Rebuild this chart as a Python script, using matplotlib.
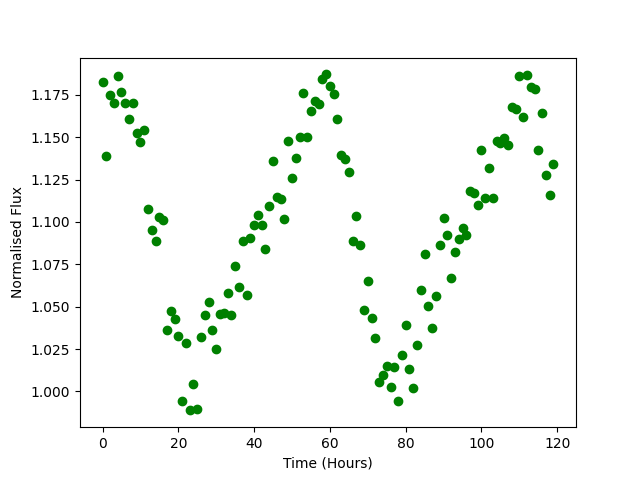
import matplotlib
matplotlib.use("Agg")
import matplotlib.pyplot as plt

# time in hours, one sample per hour
hours = list(range(120))

flux = [
    1.1823, 1.1391, 1.1751, 1.1704, 1.1858, 1.1769, 1.1704, 1.1609, 1.1704, 1.1527,
    1.1473, 1.1544, 1.1077, 1.0953, 1.0888, 1.1030, 1.1012, 1.0361, 1.0473, 1.0426,
    1.0325, 0.9941, 1.0284, 0.9888, 1.0041, 0.9899, 1.0320, 1.0450, 1.0527, 1.0361,
    1.0249, 1.0456, 1.0462, 1.0580, 1.0450, 1.0740, 1.0615, 1.0888, 1.0568, 1.0905,
    1.0982, 1.1041, 1.0982, 1.0840, 1.1095, 1.1361, 1.1148, 1.1136, 1.1018, 1.1479,
    1.1260, 1.1379, 1.1503, 1.1763, 1.1503, 1.1657, 1.1716, 1.1698, 1.1840, 1.1870,
    1.1799, 1.1757, 1.1609, 1.1396, 1.1373, 1.1296, 1.0888, 1.1036, 1.0864, 1.0479,
    1.0651, 1.0432, 1.0314, 1.0053, 1.0095, 1.0148, 1.0024, 1.0142, 0.9941, 1.0213,
    1.0391, 1.0130, 1.0018, 1.0272, 1.0598, 1.0811, 1.0503, 1.0373, 1.0562, 1.0864,
    1.1024, 1.0923, 1.0669, 1.0822, 1.0899, 1.0964, 1.0923, 1.1183, 1.1172, 1.1101,
    1.1426, 1.1142, 1.1320, 1.1142, 1.1479, 1.1467, 1.1497, 1.1456, 1.1675, 1.1663,
    1.1858, 1.1621, 1.1864, 1.1793, 1.1781, 1.1426, 1.1645, 1.1278, 1.1160, 1.1343,
]

fig = plt.figure(figsize=(6.4, 4.8), dpi=100)
plt.plot(hours, flux, 'o', color='green')
plt.xlabel("Time (Hours)")
plt.ylabel("Normalised Flux")
plt.savefig("out.png")
